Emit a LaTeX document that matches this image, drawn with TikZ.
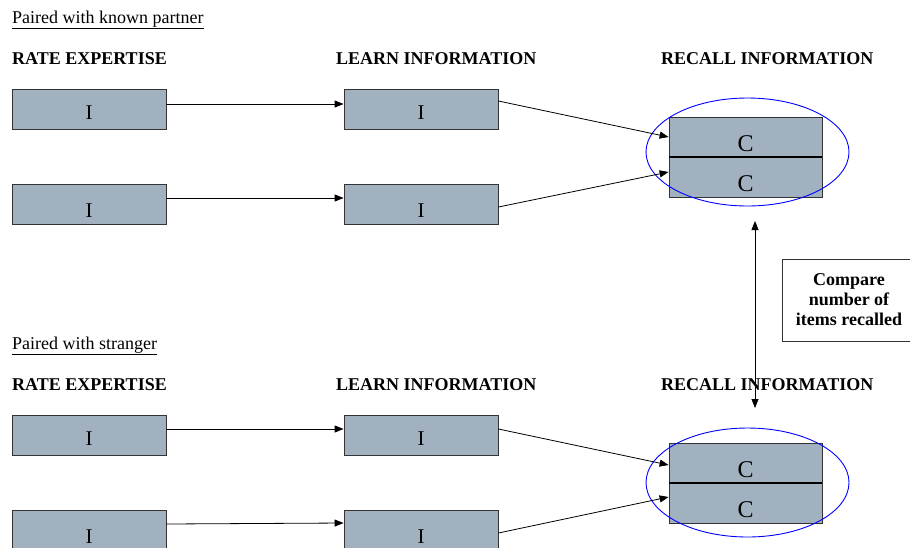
\documentclass[tikz,border=0pt]{standalone}
\usepackage{fontspec}
\setmainfont{Liberation Serif}
\usetikzlibrary{arrows.meta}

\definecolor{boxgray}{RGB}{162,177,192}

\begin{document}
\begin{tikzpicture}[x=1pt,y=-1pt,
    ibox/.style={draw=black!80,fill=boxgray,line width=0.8pt,minimum width=154pt,minimum height=40pt,
      inner sep=0pt,font=\fontsize{21}{24}\selectfont,text height=20pt,text depth=0pt},
    ilow/.style={ibox,text height=26pt},
    cbox/.style={ibox,minimum width=153pt,font=\fontsize{24}{28}\selectfont,text height=28pt},
    heading/.style={anchor=base west,inner sep=0pt,font=\fontsize{18}{20}\selectfont\bfseries},
    grouptitle/.style={anchor=base west,inner sep=0pt,font=\fontsize{18}{20}\selectfont},
    link/.style={line width=0.8pt,-{Triangle[length=9pt,width=7pt]}},
    recallring/.style={blue,line width=0.9pt}]
      \useasboundingbox (0,0) rectangle (910,547);

      % known partner
      \node[grouptitle] (t1) at (12,23) {\underline{Paired with known partner}};
      \node[heading] (h1) at (12,64) {RATE EXPERTISE};
      \node[heading] (h2) at (336,64) {LEARN INFORMATION};
      \node[heading] (h3) at (661,64) {RECALL INFORMATION};

      \node[ibox] (r1) at (89,109) {I};
      \node[ilow] (r2) at (89,204) {I};
      \node[ibox] (l1) at (421,109) {I};
      \node[ilow] (l2) at (421,204) {I};
      \node[cbox] (c1) at (745.5,137) {C};
      \node[cbox] (c2) at (745.5,177) {C};
      \draw[line width=2pt] (c1.south west) -- (c1.south east);
      \draw[recallring] (747.5,152) ellipse [x radius=101.5, y radius=54];

      \draw[link] ([yshift=5pt]r1.east) -- ([yshift=5pt]l1.west);
      \draw[link] ([yshift=6pt]r2.east) -- ([yshift=6pt]l2.west);
      \draw[link] ([yshift=8pt]l1.east) -- (c1.west);
      \draw[link] ([yshift=-3pt]l2.east) -- ([yshift=5pt]c2.west);

      % stranger
      \node[grouptitle] (t2) at (12,349) {\underline{Paired with stranger}};
      \node[heading] (h4) at (12,390) {RATE EXPERTISE};
      \node[heading] (h5) at (336,390) {LEARN INFORMATION};
      \node[heading] (h6) at (661,390) {RECALL INFORMATION};

      \node[ibox] (r3) at (89,435) {I};
      \node[ilow] (r4) at (89,530) {I};
      \node[ibox] (l3) at (421,435) {I};
      \node[ilow] (l4) at (421,530) {I};
      \node[cbox] (c3) at (745.5,463) {C};
      \node[cbox] (c4) at (745.5,503) {C};
      \draw[line width=2pt] (c3.south west) -- (c3.south east);
      \draw[recallring] (747.5,482.5) ellipse [x radius=101.5, y radius=54.5];

      \draw[link] ([yshift=6pt]r3.east) -- ([yshift=6pt]l3.west);
      \draw[link] ([yshift=6pt]r4.east) -- ([yshift=7pt]l4.west);
      \draw[link] ([yshift=6pt]l3.east) -- ([yshift=-2pt]c3.west);
      \draw[link] ([yshift=-3pt]l4.east) -- ([yshift=6pt]c4.west);

      % comparison
      \coordinate (v1) at (755,221);
      \coordinate (v2) at (755,408);
      \draw[link,{Triangle[length=9pt,width=7pt]}-{Triangle[length=9pt,width=7pt]}] (v1) -- (v2);
      \node[draw=black!80,line width=0.8pt,minimum width=134pt,minimum height=82pt,align=center,
        font=\fontsize{18}{20}\selectfont\bfseries] (cmp) at (849,300) {Compare\\number of\\items recalled};

    \end{tikzpicture}
\end{document}
